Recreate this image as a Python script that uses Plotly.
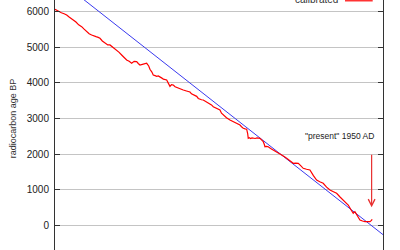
import plotly.graph_objects as go

# calibrated curve: calendar age (cal BP) vs radiocarbon age (14C BP)
cal_bp = [6960, 6900, 6820, 6760, 6703, 6650, 6593, 6540, 6499, 6440, 6374, 6320,
          6264, 6210, 6154, 6100, 6059, 6010, 5971, 5920, 5861, 5800, 5752, 5680,
          5604, 5550, 5495, 5440, 5385, 5330, 5275, 5220, 5165, 5130, 5092, 5020,
          4945, 4900, 4873, 4830, 4800, 4760, 4725, 4690, 4652, 4610, 4580, 4540,
          4505, 4470, 4433, 4400, 4360, 4320, 4286, 4210, 4141, 4070, 3993, 3960,
          3921, 3880, 3846, 3810, 3774, 3740, 3701, 3630, 3554, 3520, 3481, 3410,
          3334, 3300, 3262, 3190, 3114, 3040, 2967, 2930, 2894, 2860, 2822, 2780,
          2747, 2725, 2712, 2690, 2660, 2630, 2602, 2560, 2520, 2490, 2455, 2420,
          2382, 2360, 2345, 2310, 2273, 2220, 2163, 2090, 2015, 1940, 1868, 1800,
          1723, 1670, 1613, 1560, 1503, 1430, 1356, 1280, 1209, 1140, 1064, 990,
          916, 840, 769, 700, 624, 570, 514, 460, 404, 367, 320, 257, 200, 147, 90,
          37, 10, -13]
c14_bp = [6055, 6010, 5960, 5930, 5897, 5840, 5785, 5750, 5700, 5620, 5571, 5500,
          5431, 5370, 5338, 5300, 5290, 5270, 5245, 5170, 5105, 5060, 5058, 4990,
          4918, 4850, 4778, 4700, 4639, 4600, 4545, 4600, 4592, 4540, 4497, 4520,
          4545, 4470, 4377, 4300, 4218, 4200, 4180, 4190, 4170, 4130, 4100, 4090,
          4078, 3990, 3900, 3950, 3938, 3890, 3870, 3830, 3798, 3770, 3740, 3690,
          3658, 3640, 3620, 3560, 3530, 3525, 3518, 3470, 3425, 3380, 3331, 3280,
          3238, 3150, 3098, 3020, 2958, 2910, 2866, 2840, 2818, 2770, 2726, 2710,
          2700, 2580, 2446, 2460, 2440, 2455, 2446, 2440, 2455, 2450, 2446, 2400,
          2351, 2280, 2211, 2220, 2211, 2160, 2119, 2070, 2026, 1950, 1886, 1820,
          1746, 1750, 1746, 1680, 1606, 1580, 1559, 1400, 1279, 1230, 1187, 1080,
          999, 950, 906, 810, 719, 650, 579, 460, 347, 392, 290, 160, 130, 112, 115,
          112, 140, 180]

# uncalibrated reference line (radiocarbon age = calendar age)
ident_cal = [-300, 7400]
ident_c14 = [-300, 7400]

y_ticks = [0, 1000, 2000, 3000, 4000, 5000, 6000]
y_tick_text = ["0", "1000", "2000", "3000", "4000", "5000", "6000"]

L, R, W, H = 55, 17, 400, 250
PW = W - L - R

fig = go.Figure()
fig.add_trace(go.Scatter(x=ident_cal, y=ident_c14, mode="lines",
                         line=dict(color="#3a3aee", width=1), showlegend=False,
                         hoverinfo="skip"))
fig.add_trace(go.Scatter(x=cal_bp, y=c14_bp, mode="lines", name="calibrated",
                         line=dict(color="#ff0000", width=1.2), showlegend=False))

fig.update_layout(
    width=W, height=H,
    margin=dict(l=L, r=R, t=0, b=0, pad=0),
    paper_bgcolor="white", plot_bgcolor="white",
    font=dict(family="Liberation Sans, Arial, sans-serif", size=10, color="#222"),
    showlegend=False,
)
fig.update_xaxes(range=[6960, -250], showgrid=False, zeroline=False,
                 showticklabels=False, ticks="", showline=False, automargin=False)
fig.update_yaxes(range=[-680, 6316], tickvals=y_ticks, ticktext=y_tick_text,
                 showgrid=True, gridcolor="#c4c4c4", gridwidth=1.3, zeroline=False,
                 showline=True, linecolor="#333", linewidth=1, mirror="ticks",
                 ticks="inside", ticklen=5, tickcolor="#333", tickwidth=1,
                 ticklabelstandoff=3, automargin=False,
                 tickfont=dict(size=10, color="#222"))

# y-axis title
fig.add_annotation(text="radiocarbon age BP", textangle=-90, showarrow=False,
                   xref="paper", yref="paper", x=(12.5 - L) / PW, y=1 - 118.7 / H,
                   xanchor="center", yanchor="middle",
                   font=dict(size=9, color="#333"))
# legend entry (text left of sample, as in the reference)
fig.add_annotation(text="calibrated", showarrow=False, xref="paper", yref="paper",
                   x=(340 - L) / PW, y=1 + 0.5 / H, xanchor="right", yanchor="middle",
                   font=dict(size=10, color="#333"))
fig.add_shape(type="line", xref="paper", yref="paper",
              x0=(345 - L) / PW, x1=(372.7 - L) / PW, y0=1 - 0.8 / H, y1=1 - 0.8 / H,
              line=dict(color="#ff0000", width=1.2))
# "present" label and arrow
fig.add_annotation(text="\"present\" 1950 AD", showarrow=False, xref="paper", yref="paper",
                   x=(375.5 - L) / PW, y=1 - 135.7 / H, xanchor="right", yanchor="middle",
                   font=dict(size=8.5, color="#222"))
fig.add_annotation(text="", x=0, y=515, xref="x", yref="y", ax=0, ay=-54,
                   showarrow=True, arrowhead=5, arrowsize=1.1, arrowwidth=1.2,
                   arrowcolor="#e83030", standoff=0)

fig.write_html("out.html")
